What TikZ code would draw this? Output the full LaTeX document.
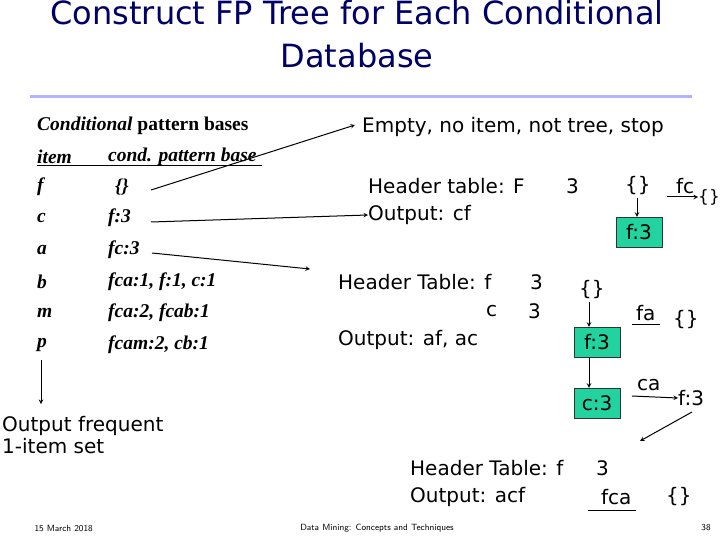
\documentclass[tikz,border=0pt]{standalone}
\usepackage{fontspec}
\setmainfont{DejaVu Sans}
\newfontfamily\serifb{Liberation Serif}
\definecolor{boxfill}{HTML}{22D3A0}
\begin{document}
\begin{tikzpicture}[x=1pt,y=-1pt,
  tx/.style={anchor=west,inner sep=0pt,font=\fontsize{20}{22}\selectfont},
  tb/.style={anchor=west,inner sep=0pt,font=\serifb\bfseries\itshape\fontsize{19.5}{21}\selectfont},
  box/.style={draw=black!80,fill=boxfill,font=\fontsize{20}{22}\selectfont,minimum width=46,minimum height=30,inner sep=1pt},
  ar/.style={->,>=stealth,line width=1pt}]
\useasboundingbox (0,0) rectangle (720,540);
\node[font=\fontsize{32}{43}\selectfont,text=blue!40!black,align=center] (title) at (357,34) {Construct FP Tree for Each Conditional\\Database};
\draw[line width=3pt,blue!30] (30,97) coordinate (l1) -- (692,97) coordinate (l2);
\node[tb] (cpb) at (37,126) {Conditional \upshape pattern bases};
\node[tb] (h1) at (37,157) {item};
\node[tb] (h2) at (108,157) {cond. pattern base};
\draw[line width=1pt] (37,166) coordinate (u1) -- (262,166) coordinate (u2);
\node[tb] (r1) at (37,187) {f}; \node[tb] (v1) at (115,187) {\{\}};
\node[tb] (r2) at (37,218) {c}; \node[tb] (v2) at (108,218) {f:3};
\node[tb] (r3) at (37,250) {a}; \node[tb] (v3) at (108,250) {fc:3};
\node[tb] (r4) at (37,282) {b}; \node[tb] (v4) at (108,282) {fca:1, f:1, c:1};
\node[tb] (r5) at (37,313) {m}; \node[tb] (v5) at (108,313) {fca:2, fcab:1};
\node[tb] (r6) at (37,345) {p}; \node[tb] (v6) at (108,345) {fcam:2, cb:1};
\node[tx] (empty) at (362,127) {Empty, no item, not tree, stop};
\coordinate (a1) at (151,190);
\draw[ar] (a1) -- (355,125) coordinate (a1e);
\node[tx] (ht1) at (368,186) {Header table: F};
\node[tx] (ht1n) at (566,186) {3};
\node[tx] (out1) at (368,215) {Output: cf};
\coordinate (a2) at (151,222);
\draw[ar] (a2) -- (out1.west);
\coordinate (a3) at (152,253);
\draw[ar] (a3) -- (310,269) coordinate (a3e);
\node[tx] (e1) at (625,186) {\{\}};
\node[box] (b1) at (639,232) {f:3};
\draw[ar] (637,198) -- (b1.north -| 637,0);
\node[tx] (fc) at (676,186) {fc};
\node[tx,font=\fontsize{17}{18}\selectfont] (e2) at (698,197) {\{\}};
\draw[ar] (667,197) -- (e2.west);
\node[tx] (ht2) at (338,282) {Header Table: f};
\node[tx] (ht2n) at (530,282) {3};
\node[tx] (ht2c) at (486,311) {c};
\node[tx] (ht2m) at (528,311) {3};
\node[tx] (out2) at (338,340) {Output: af, ac};
\node[tx] (e3) at (579,290) {\{\}};
\node[box] (b2) at (597,342) {f:3};
\node[box] (b3) at (597,403) {c:3};
\draw[ar] (589,302) -- (b2.north -| 589,0);
\draw[ar] (b2.south -| 589,0) -- (b3.north -| 589,0);
\node[tx] (fa) at (636,313) {fa};
\draw[line width=1pt] (632,324) coordinate (fa1) -- (660,324) coordinate (fa2);
\node[tx] (e4) at (673,320) {\{\}};
\node[tx] (ca) at (637,385) {ca};
\node[tx] (f3) at (678,398) {f:3};
\draw[ar] (632,396) coordinate (ca1) -- (f3.west);
\coordinate (a4) at (692,412);
\draw[ar] (a4) -- (640,441) coordinate (a4e);
\coordinate (lo) at (41,360);
\node[tx,align=left] (ofi) at (2,435) {Output frequent\\1-item set};
\draw[ar] (lo) -- (41,404) coordinate (loe);
\node[tx] (ht3) at (410,468) {Header Table: f};
\node[tx] (ht3n) at (596,468) {3};
\node[tx] (out3) at (410,497) {Output: acf};
\node[tx] (fca) at (601,497) {fca};
\draw[line width=1pt] (588,510) coordinate (fca1) -- (636,510) coordinate (fca2);
\node[tx] (e5) at (666,497) {\{\}};
\node[anchor=west,font=\sffamily\fontsize{9}{10}\selectfont] (d) at (31,528) {15 March 2018};
\node[font=\sffamily\fontsize{9}{10}\selectfont] (dm) at (377,528) {Data Mining: Concepts and Techniques};
\node[font=\sffamily\fontsize{9}{10}\selectfont] (pg) at (706,528) {38};
\end{tikzpicture}
\end{document}
